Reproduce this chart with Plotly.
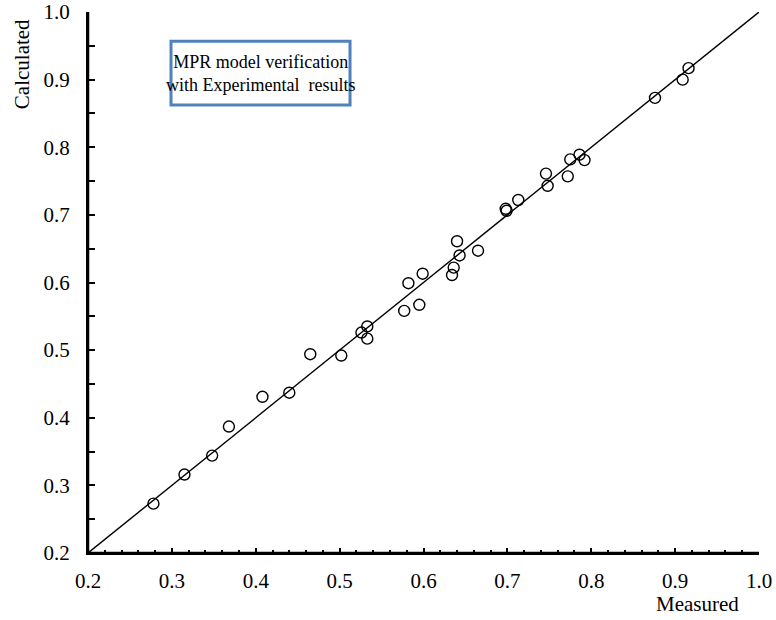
import plotly.graph_objects as go

measured = [0.278, 0.315, 0.348, 0.368, 0.408, 0.440, 0.465, 0.502, 0.526, 0.533, 0.533,
            0.577, 0.582, 0.595, 0.599, 0.634, 0.636, 0.640, 0.643, 0.665, 0.698, 0.699,
            0.713, 0.746, 0.748, 0.772, 0.775, 0.786, 0.792, 0.876, 0.909, 0.916]
calculated = [0.273, 0.316, 0.344, 0.387, 0.431, 0.437, 0.494, 0.492, 0.526, 0.535, 0.517,
              0.558, 0.599, 0.567, 0.613, 0.611, 0.622, 0.661, 0.640, 0.647, 0.709, 0.706,
              0.722, 0.761, 0.743, 0.757, 0.782, 0.789, 0.781, 0.873, 0.900, 0.917]
line_x = [0.2, 1.0]
line_y = [0.2, 1.0]
tick_vals = [0.2, 0.3, 0.4, 0.5, 0.6, 0.7, 0.8, 0.9, 1.0]
tick_text = ["0.2", "0.3", "0.4", "0.5", "0.6", "0.7", "0.8", "0.9", "1.0"]
box_lines = ["MPR model verification", "with Experimental  results"]

FONT = "Liberation Serif, Times New Roman, serif"

fig = go.Figure()
fig.add_trace(go.Scatter(x=line_x, y=line_y, mode="lines",
                         line=dict(color="black", width=1.4), showlegend=False))
fig.add_trace(go.Scatter(x=measured, y=calculated, mode="markers",
                         marker=dict(symbol="circle-open", size=11,
                                     line=dict(color="black", width=1.4), color="black"),
                         showlegend=False))

axis_common = dict(range=[0.2, 1.0], tickvals=tick_vals, ticktext=tick_text,
                   showgrid=False, zeroline=False, showline=True, linecolor="#000000",
                   linewidth=2, ticks="inside", tickcolor="#000000", tickwidth=2,
                   automargin=False,
                   tickfont=dict(family=FONT, size=21, color="black"))

fig.update_xaxes(**axis_common, ticklen=5, ticklabelstandoff=8,
                 minor=dict(dtick=0.02, ticks="inside", ticklen=3, tickwidth=2, tickcolor="#000000"))
fig.update_yaxes(**axis_common, ticklen=7, ticklabelstandoff=12,
                 minor=dict(dtick=0.05, ticks="inside", ticklen=7, tickwidth=2, tickcolor="#000000"))

# solid black axis lines
fig.add_shape(type="line", xref="paper", yref="paper", x0=0, x1=0, y0=0, y1=1,
              line=dict(color="black", width=2.5), layer="above")
fig.add_shape(type="line", xref="paper", yref="paper", x0=0, x1=1, y0=0, y1=0,
              line=dict(color="black", width=2.5), layer="above")

fig.add_shape(type="rect", xref="paper", yref="paper", x0=0.1237, x1=0.3905, y0=0.828, y1=0.946,
              line=dict(color="#4f81bd", width=3), fillcolor="white", layer="above")
fig.add_annotation(xref="paper", yref="paper", x=0.257, y=0.887, text="<br>".join(box_lines),
                   showarrow=False, font=dict(family=FONT, size=18, color="black"),
                   xanchor="center", yanchor="middle")

fig.add_annotation(xref="paper", yref="paper", x=0.908, y=-0.094, text="Measured",
                   showarrow=False, font=dict(family=FONT, size=21, color="black"),
                   xanchor="center", yanchor="middle")
fig.add_annotation(xref="paper", yref="paper", x=-0.098, y=0.904, text="Calculated",
                   showarrow=False, textangle=-90, font=dict(family=FONT, size=21, color="black"),
                   xanchor="center", yanchor="middle")

fig.update_layout(width=776, height=620, margin=dict(l=88, r=17, t=12, b=67),
                  plot_bgcolor="white", paper_bgcolor="white")

fig.write_html("out.html")
